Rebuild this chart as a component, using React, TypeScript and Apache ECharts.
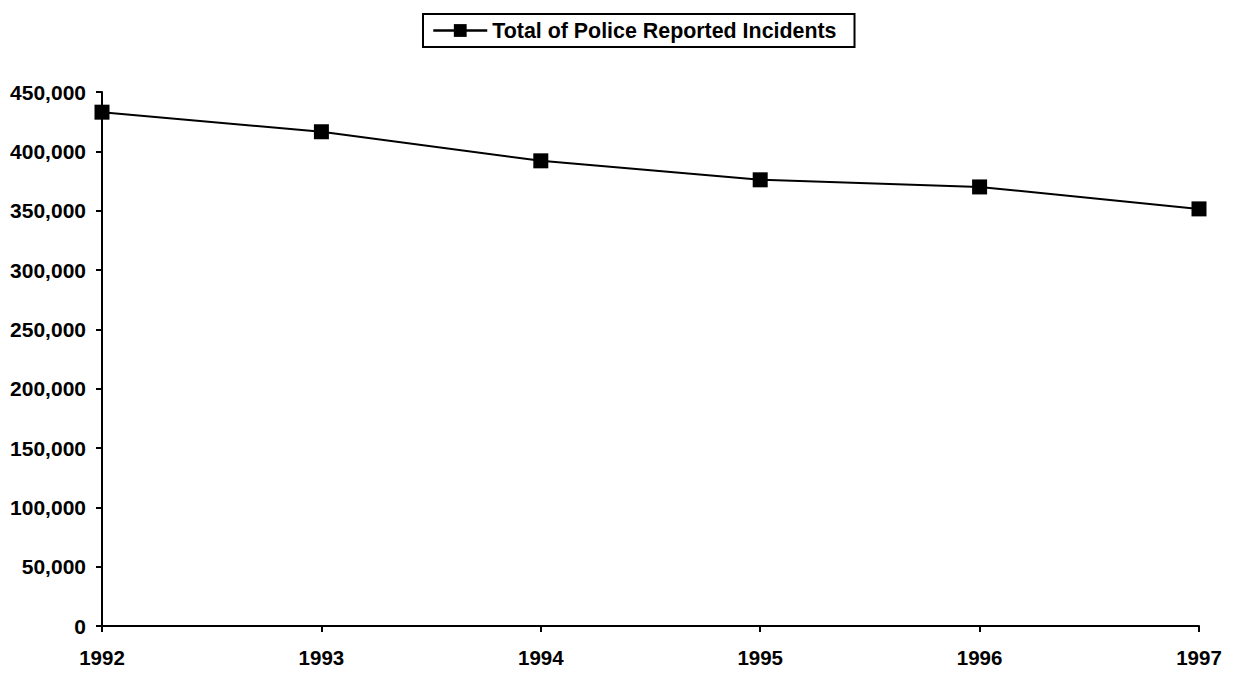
import React, { useEffect, useRef } from "react";
import * as echarts from "echarts";

const years = ["1992", "1993", "1994", "1995", "1996", "1997"];
const incidents = [433000, 416500, 392000, 376000, 370000, 351500];
const seriesName = "Total of Police Reported Incidents";

const FONT = "'Liberation Sans', Arial, Helvetica, sans-serif";

export default function App() {
  const ref = useRef<HTMLDivElement>(null);
  useEffect(() => {
    if (!ref.current) return;
    const chart = echarts.init(ref.current, null, { renderer: "svg" });
    chart.setOption({
      animation: false,
      backgroundColor: "#ffffff",
      textStyle: { fontFamily: FONT },
      legend: {
        data: [seriesName],
        top: 14,
        left: 423,
        borderColor: "#000",
        borderWidth: 2,
        padding: [6, 18, 6, 9],
        itemWidth: 54,
        itemHeight: 16,
        itemGap: 6,
        lineStyle: { width: 2.5, color: "#000" },
        textStyle: {
          fontFamily: FONT,
          fontWeight: "bold",
          fontSize: 21.4,
          color: "#000",
        },
      },
      grid: { left: 102, right: 40, top: 92, bottom: 47, containLabel: false },
      xAxis: {
        type: "category",
        data: years,
        boundaryGap: false,
        axisLine: { lineStyle: { color: "#000", width: 2 } },
        axisTick: { show: true, length: 6, lineStyle: { color: "#000", width: 2 } },
        axisLabel: {
          color: "#000",
          fontWeight: "bold",
          fontSize: 20.5,
          fontFamily: FONT,
          margin: 21,
        },
        splitLine: { show: false },
      },
      yAxis: {
        type: "value",
        min: 0,
        max: 450000,
        interval: 50000,
        axisLine: { show: true, lineStyle: { color: "#000", width: 2 } },
        axisTick: { show: true, length: 6, lineStyle: { color: "#000", width: 2 } },
        axisLabel: {
          color: "#000",
          fontWeight: "bold",
          fontSize: 21,
          fontFamily: FONT,
          margin: 16,
          formatter: (v: number) => v.toLocaleString("en-US"),
        },
        splitLine: { show: false },
      },
      series: [
        {
          name: seriesName,
          type: "line",
          data: incidents,
          symbol: "rect",
          symbolSize: 15,
          lineStyle: { color: "#000", width: 2 },
          itemStyle: { color: "#000" },
          emphasis: { disabled: true },
        },
      ],
    });
    return () => chart.dispose();
  }, []);
  return (
    <div
      ref={ref}
      style={{ position: "fixed", left: 0, top: 0, width: 1239, height: 673 }}
    />
  );
}
